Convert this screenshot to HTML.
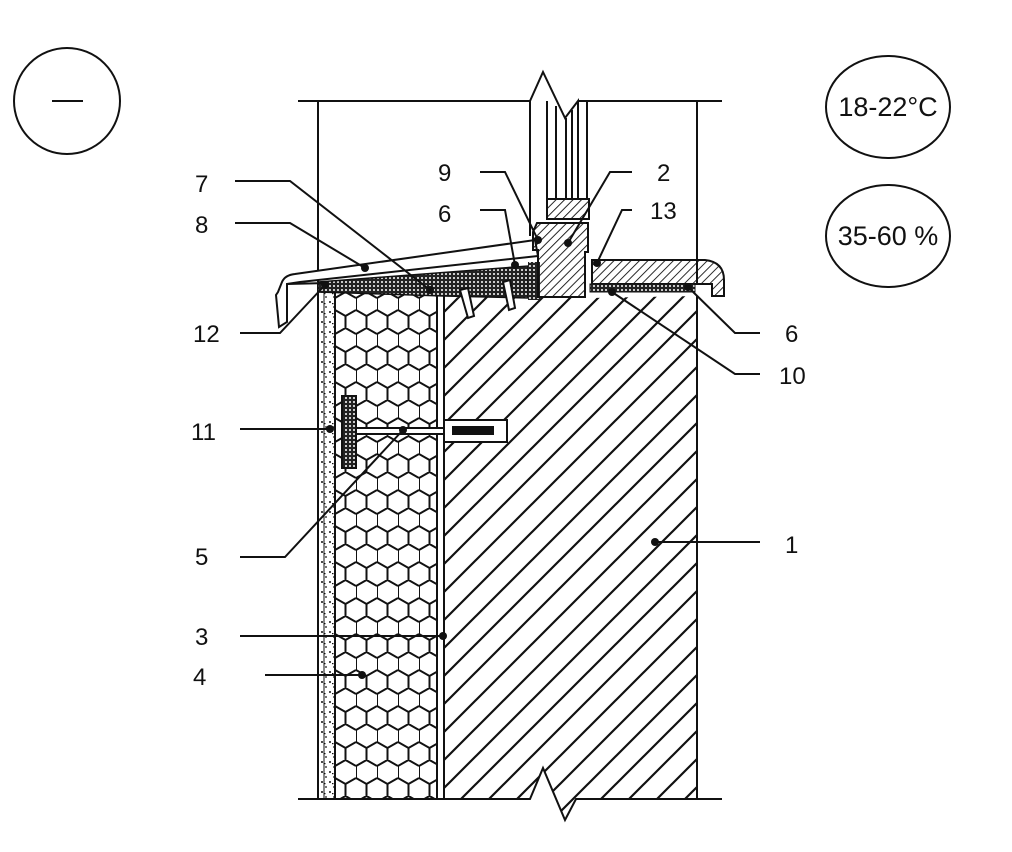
<!DOCTYPE html>
<html><head><style>body{margin:0;background:#fff}svg{display:block}text{font-family:"Liberation Sans",sans-serif;font-size:24px;fill:#111}</style></head><body>
<svg width="1012" height="852" viewBox="0 0 1012 852" xmlns="http://www.w3.org/2000/svg">
<defs>
<pattern id="hex" width="21" height="36" patternUnits="userSpaceOnUse" x="335" y="292">
<path d="M0,6 L10.5,0 L21,6 M0,6 L0,18 M0,18 L10.5,24 L21,18 M10.5,24 L10.5,36" fill="none" stroke="#111" stroke-width="2"/>
</pattern>
<pattern id="hatch" width="28" height="28" patternUnits="userSpaceOnUse">
<path d="M-2,30 L30,-2 M-16,16 L16,-16 M12,44 L44,12" stroke="#111" stroke-width="2.2"/>
</pattern>
<pattern id="fine" width="6" height="6" patternUnits="userSpaceOnUse" patternTransform="rotate(45)">
<line x1="0" y1="0" x2="0" y2="6" stroke="#111" stroke-width="1.8"/>
</pattern>
<pattern id="dots" width="4" height="4" patternUnits="userSpaceOnUse">
<rect width="4" height="4" fill="#222"/><circle cx="2" cy="2" r="1" fill="#fff"/>
</pattern>
<pattern id="render" width="8" height="10" patternUnits="userSpaceOnUse">
<circle cx="2" cy="2" r="1" fill="#111"/><circle cx="6" cy="7" r="0.9" fill="#111"/><rect x="4" y="3" width="1.5" height="1.2" fill="#111"/>
</pattern>
</defs>
<g fill="none" stroke="#111" stroke-width="2">
<circle cx="67" cy="101" r="53"/>
<line x1="52" y1="101" x2="83" y2="101"/>
<ellipse cx="888" cy="107" rx="62" ry="51"/>
<ellipse cx="888" cy="236" rx="62" ry="51"/>
<line x1="298" y1="101" x2="530" y2="101"/>
<line x1="578" y1="101" x2="722" y2="101"/>
<line x1="318" y1="101" x2="318" y2="282"/>
<line x1="697" y1="101" x2="697" y2="283"/>
</g>
<path d="M444,300 L528,283 L528,298 L590,298 L697,296 L697,799 L576,799 L565,820 L543,768 L530,799 L444,799Z" fill="url(#hatch)" stroke="none"/>
<path d="M444,300 L444,799 L530,799 L543,768 L565,820 L576,799 L722,799" fill="none" stroke="#111" stroke-width="2"/>
<line x1="298" y1="799" x2="444" y2="799" stroke="#111" stroke-width="2"/>
<line x1="697" y1="296" x2="697" y2="799" stroke="#111" stroke-width="2"/>
<rect x="318" y="285" width="17" height="514" fill="url(#render)" stroke="#111" stroke-width="2"/>
<line x1="324" y1="285" x2="324" y2="799" stroke="#111" stroke-width="1"/>
<rect x="335" y="287" width="102" height="512" fill="url(#hex)" stroke="#111" stroke-width="2"/>
<rect x="437" y="287" width="7" height="512" fill="#fff" stroke="#111" stroke-width="2"/>
<path d="M318,282 L528,266 L528,298 L444,296 L318,292Z" fill="url(#dots)" stroke="#111" stroke-width="1.5"/>
<path d="M528,262 L540,262 L540,300 L528,300Z" fill="url(#dots)"/>
<path d="M460,290 L468,318 L474,316 L468,288Z M503,282 L509,310 L515,308 L510,280Z" fill="#fff" stroke="#111" stroke-width="2"/>
<path d="M278,292 L282,282 Q285,275 295,274 L535,240 L538,256 L300,282 L287,284 L287,322 L279,327 L276,295Z" fill="#fff" stroke="#111" stroke-width="2"/>
<path d="M287,284 L328,283" stroke="#111" stroke-width="2"/>
<path d="M537,223 L588,223 L588,252 L585,252 L585,297 L538,297 L538,250 L533,250 L533,232Z" fill="url(#fine)" stroke="#111" stroke-width="2"/>
<rect x="547" y="199" width="42" height="20" fill="url(#fine)" stroke="#111" stroke-width="2"/>
<g fill="none" stroke="#111" stroke-width="2">
<path d="M530,101 L530,236 M530,101 L543,72 L565,118 L578,101 L578,198"/>
<line x1="547" y1="101" x2="547" y2="199"/><line x1="556" y1="106" x2="556" y2="199"/>
<line x1="566" y1="118" x2="566" y2="199"/><line x1="572" y1="110" x2="572" y2="199"/>
<line x1="587" y1="101" x2="587" y2="199"/>
</g>
<path d="M592,260 L705,260 Q724,262 724,280 L724,296 L712,296 L712,284 L592,284Z" fill="url(#fine)" stroke="#111" stroke-width="2"/>
<rect x="590" y="284" width="105" height="8" fill="url(#dots)" stroke="#111" stroke-width="1"/>
<rect x="342" y="396" width="14" height="72" fill="url(#dots)" stroke="#111" stroke-width="2"/>
<rect x="356" y="428" width="150" height="6" fill="#fff" stroke="#111" stroke-width="2"/>
<rect x="444" y="420" width="63" height="22" fill="#fff" stroke="#111" stroke-width="2"/>
<rect x="452" y="426" width="42" height="9" fill="#111"/>
<g fill="none" stroke="#111" stroke-width="2">
<path d="M235,181 L290,181 L430,290"/>
<path d="M235,223 L290,223 L365,268"/>
<path d="M240,333 L280,333 L325,285"/>
<path d="M240,429 L330,429"/>
<path d="M240,557 L285,557 L403,430"/>
<path d="M240,636 L443,636"/>
<path d="M265,675 L362,675"/>
<path d="M655,542 L760,542"/>
<path d="M480,172 L505,172 L538,240"/>
<path d="M480,210 L505,210 L515,265"/>
<path d="M632,172 L610,172 L568,243"/>
<path d="M632,210 L622,210 L597,263"/>
<path d="M760,333 L735,333 L688,287"/>
<path d="M760,374 L735,374 L612,292"/>
</g>
<g fill="#111">
<circle cx="365" cy="268" r="4"/><circle cx="430" cy="290" r="4"/><circle cx="325" cy="285" r="4"/>
<circle cx="330" cy="429" r="4"/><circle cx="403" cy="430" r="4"/><circle cx="443" cy="636" r="4"/>
<circle cx="362" cy="675" r="4"/><circle cx="655" cy="542" r="4"/><circle cx="538" cy="240" r="4"/>
<circle cx="515" cy="265" r="4"/><circle cx="568" cy="243" r="4"/><circle cx="597" cy="263" r="4"/>
<circle cx="688" cy="287" r="4"/><circle cx="612" cy="292" r="4"/>
</g>
<text x="195" y="192">7</text><text x="195" y="233">8</text><text x="193" y="342">12</text>
<text x="191" y="440">11</text><text x="195" y="565">5</text><text x="195" y="645">3</text>
<text x="193" y="685">4</text><text x="785" y="553">1</text>
<text x="438" y="181">9</text><text x="438" y="222">6</text>
<text x="657" y="181">2</text><text x="650" y="219">13</text>
<text x="785" y="342">6</text><text x="779" y="384">10</text>
<text x="888" y="116" text-anchor="middle" style="font-size:27px">18-22°C</text>
<text x="888" y="245" text-anchor="middle" style="font-size:27px">35-60 %</text>
</svg>
</body></html>
